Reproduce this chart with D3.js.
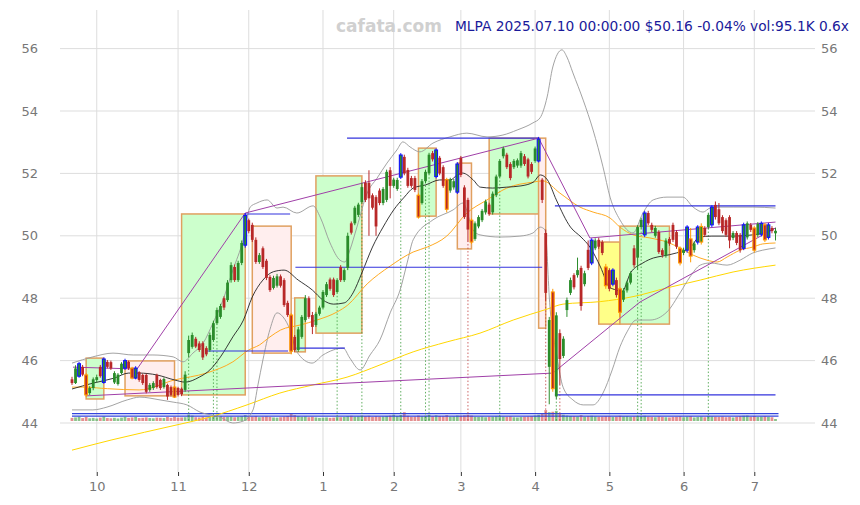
<!DOCTYPE html>
<html><head><meta charset="utf-8">
<script src="https://cdn.jsdelivr.net/npm/d3@7"></script>
<style>body{margin:0;background:#fff}svg{display:block}</style>
</head><body><svg id="c" width="860" height="505"></svg>
<script>
const tickIdx=[7,30,50,71,91,110,131,152,173,193];
const tickLabels=["10","11","12","1","2","3","4","5","6","7"];
const yTicks=[44,46,48,50,52,54,56];
const open=[45.40,45.28,45.50,45.80,45.54,44.96,45.12,45.38,45.80,45.30,
45.96,45.95,45.30,45.25,45.60,45.76,45.96,45.76,45.44,45.63,
45.54,45.54,45.06,45.12,45.54,45.38,45.15,45.22,45.15,45.15,
45.12,45.10,45.06,46.24,46.44,46.70,46.55,46.56,46.40,46.34,
46.66,47.20,47.40,48.00,47.94,48.58,49.00,48.58,49.13,49.70,
50.50,50.35,49.87,49.16,49.60,49.20,48.68,48.33,48.40,48.70,
48.58,47.85,47.46,46.76,46.34,46.76,47.30,48.00,47.46,47.14,
47.50,47.70,48.10,48.60,48.60,48.20,49.00,48.58,48.97,50.40,
50.40,50.67,51.08,51.70,51.70,51.30,51.24,51.45,51.05,51.15,
52.10,51.60,51.50,51.88,52.53,52.11,51.85,51.85,51.30,51.05,
51.75,52.00,52.65,51.90,52.50,52.20,51.80,51.45,51.55,51.40,
52.50,51.55,51.15,50.50,49.90,50.30,50.50,50.75,51.00,50.75,
51.30,51.90,52.55,52.60,52.30,52.20,52.25,52.25,52.55,52.45,
52.30,52.40,52.40,51.80,50.09,45.80,48.20,44.85,46.88,46.15,
47.62,48.17,48.74,48.74,48.97,48.45,49.55,49.13,49.60,49.87,
49.80,49.00,48.90,48.45,48.58,48.30,47.95,48.25,48.50,49.60,
49.30,50.28,50.03,50.73,50.35,50.00,50.12,49.54,49.38,49.90,
50.35,50.12,49.60,49.45,49.54,49.90,49.54,49.80,49.80,50.25,
50.28,50.35,50.99,50.85,50.60,50.50,50.60,49.93,50.09,50.03,
49.60,49.95,50.35,50.25,50.03,50.05,50.35,49.95,50.25,50.08];
const high=[45.48,45.85,45.96,45.86,45.60,45.18,45.46,45.55,45.86,46.10,
46.02,46.00,45.66,45.60,45.95,46.06,46.00,45.80,45.82,45.66,
45.58,45.58,45.28,45.34,45.58,45.42,45.46,45.26,45.20,45.20,
45.16,45.14,45.66,46.80,46.90,46.76,46.62,46.62,46.46,46.90,
47.28,47.70,47.82,48.06,48.58,49.15,49.08,49.20,49.85,50.73,
50.55,50.42,49.95,49.45,49.66,49.26,48.74,48.72,48.78,48.76,
48.64,47.92,47.52,46.82,47.08,47.46,48.10,48.06,47.56,47.56,
47.76,48.26,48.52,48.66,48.66,48.64,49.06,48.96,50.10,50.46,
50.96,51.06,51.70,51.78,52.10,51.36,51.30,51.52,51.56,52.12,
52.20,51.86,51.86,52.65,52.60,52.18,51.92,51.92,51.36,51.82,
52.12,52.66,52.72,52.80,52.56,52.26,51.86,51.86,51.82,52.36,
52.56,51.62,51.22,50.56,50.46,50.66,50.86,51.16,51.06,51.42,
51.96,52.46,52.86,52.66,52.36,52.46,52.48,52.72,52.62,52.50,
52.36,52.86,53.17,51.85,50.20,47.40,48.30,47.55,47.00,46.78,
48.02,48.66,48.80,49.30,49.04,48.88,49.85,49.92,49.92,49.94,
49.86,49.10,48.96,48.96,48.66,48.36,48.32,48.56,48.86,49.70,
50.34,50.58,50.80,50.80,50.42,50.32,50.18,49.60,49.92,49.96,
50.42,50.18,49.66,49.62,50.34,50.25,49.82,50.34,50.40,50.31,
50.74,50.98,51.10,51.05,50.66,50.56,50.66,50.15,50.15,50.09,
50.42,50.46,50.41,50.31,50.44,50.46,50.41,50.41,50.31,50.25];
const low=[45.22,45.25,45.45,45.50,44.83,44.90,45.05,45.30,45.45,45.26,
45.75,45.70,45.25,45.20,45.55,45.70,45.70,45.40,45.40,45.32,
45.22,44.95,45.00,45.06,45.10,45.06,45.10,44.74,44.85,44.80,
44.85,44.86,45.00,46.10,46.38,46.40,46.28,46.02,46.14,46.28,
46.60,47.14,47.34,47.62,47.88,48.50,48.52,48.52,49.06,49.62,
50.08,49.80,49.10,49.10,48.94,48.58,48.20,48.28,48.34,48.34,
47.72,47.40,46.20,46.28,46.28,46.70,47.24,47.34,46.85,47.08,
47.44,47.64,48.04,48.24,48.04,48.14,48.52,48.52,48.90,50.04,
50.34,50.60,51.02,51.08,50.00,50.84,50.00,50.98,50.98,51.08,
51.20,51.54,51.44,51.82,51.94,51.54,51.54,51.40,50.55,51.00,
51.68,51.94,52.38,51.84,51.94,51.54,50.75,51.38,51.48,51.34,
51.88,50.54,49.80,49.74,49.84,50.24,50.44,50.68,50.64,50.68,
51.24,51.84,52.48,52.14,51.78,52.14,52.18,52.18,52.24,51.84,
51.98,52.34,52.35,51.05,47.90,44.60,45.00,44.75,45.20,46.08,
47.40,48.10,48.28,48.66,47.60,48.38,48.90,49.06,49.54,49.58,
49.38,48.30,48.22,48.38,48.02,47.40,47.88,48.18,48.44,48.98,
48.90,50.20,49.96,50.34,50.12,49.94,49.42,49.30,49.30,49.68,
49.80,49.58,49.05,49.38,49.46,49.15,49.46,49.72,49.72,49.96,
50.20,50.28,50.52,50.34,50.08,49.96,49.60,49.86,49.70,49.46,
49.54,49.88,50.12,49.46,49.96,49.98,49.80,49.88,50.08,49.85];
const close=[45.28,45.75,45.90,45.55,44.90,45.12,45.40,45.47,45.50,46.05,
45.80,45.75,45.60,45.55,45.90,46.00,45.76,45.44,45.76,45.38,
45.28,45.00,45.22,45.28,45.15,45.12,45.41,44.85,44.90,44.83,
44.90,44.92,45.55,46.66,46.82,46.45,46.34,46.10,46.20,46.82,
47.20,47.62,47.75,47.70,48.50,49.06,48.58,49.13,49.77,50.65,
50.15,49.87,49.16,49.38,49.00,48.65,48.26,48.65,48.70,48.40,
47.78,47.46,46.30,46.34,47.00,47.40,48.00,47.40,47.08,47.50,
47.70,48.20,48.45,48.30,48.10,48.58,48.58,48.90,50.00,50.10,
50.90,51.00,51.56,51.15,51.20,50.90,50.30,51.05,51.50,52.05,
51.60,51.80,51.79,52.59,52.00,51.60,51.60,51.47,50.60,51.75,
52.05,52.60,52.45,52.75,52.00,51.60,50.85,51.80,51.75,52.30,
51.95,50.60,50.20,49.80,50.40,50.60,50.80,51.10,50.70,51.35,
51.90,52.40,52.80,52.20,51.85,52.40,52.42,52.65,52.30,51.90,
52.05,52.80,53.10,51.15,48.17,47.30,45.10,47.45,46.05,46.70,
47.94,48.58,48.35,48.90,47.75,48.80,48.97,49.86,49.85,49.65,
49.45,48.40,48.30,48.90,48.10,47.55,48.25,48.50,48.80,49.06,
50.28,50.51,50.73,50.40,50.19,50.25,49.48,49.38,49.85,49.75,
49.87,49.65,49.13,49.55,50.28,49.35,49.75,50.28,50.30,50.03,
50.67,50.92,50.60,50.40,50.15,50.03,49.85,50.09,49.77,49.54,
50.35,50.40,50.19,49.54,50.38,50.40,49.87,50.35,50.15,50.16];
const volume=[150,170,210,140,190,130,150,120,160,220,
140,130,150,120,160,200,150,170,190,140,
150,170,140,130,160,150,140,190,150,200,
160,170,180,310,260,180,170,200,160,220,
240,270,230,190,200,210,180,200,230,280,
230,210,240,180,200,220,190,170,160,180,
210,240,330,280,230,200,220,180,200,170,
150,160,170,150,160,200,180,190,230,250,
210,220,260,230,250,200,230,210,220,240,
260,300,240,280,420,250,200,210,260,230,
250,300,230,270,240,230,280,210,220,260,
250,270,300,260,200,190,210,180,200,210,
230,240,210,200,220,180,170,190,200,210,
230,260,300,380,520,420,440,480,350,300,
260,240,230,220,280,210,230,250,220,200,
210,230,220,200,210,250,220,230,200,210,
240,230,250,200,190,180,210,190,180,170,
190,200,220,180,210,230,170,190,210,180,
240,220,200,190,210,180,190,170,200,230,
250,260,200,240,190,210,230,200,180,95];
const volLevels=[350,230];
const blueIdx=[2,9,15,18,49,93,103,109,132,147,153,162,174,177,181,190,195,197];
const orangeIdx=[4,17,29,62,98,106,113,136,151,155,172,175,178,193,196];
const greenMarks=[33,40,41,75,82,93,100,101,121,137,160,161,180];
const redMarks=[112,134,138];
const ma20=[[0,45.09],[6,45.28],[12,45.44],[16,45.60],[19,45.60],[24,45.54],[29,45.38],[32,45.31],[36,45.47],[39,45.70],[42,46.12],[45.5,46.76],[48.5,47.30],[51,48.04],[54,48.58],[57,48.85],[60,48.90],[64,48.58],[68,48.26],[71,47.94],[74,47.81],[77,47.85],[79.5,48.17],[82,48.81],[85,49.64],[88,50.28],[91,50.83],[94,51.24],[96.5,51.53],[100,51.63],[104,51.79],[107,51.79],[109,51.95],[110.5,52.01],[113.5,51.79],[115.5,51.56],[119,51.53],[123,51.56],[127,51.60],[130.5,51.72],[132.5,51.95],[134.5,51.79],[137,51.15],[141,50.28],[144,49.96],[146.5,49.64],[149.5,49.00],[152,48.36],[154,48.26],[155.5,48.20],[158,48.81],[161.5,49.13],[164.5,49.29],[167,49.35],[171,49.45],[175,49.64],[177.5,49.96],[181,49.99],[187,49.99],[192.5,50.03],[196.5,50.12],[199,50.25]];
const ma50=[[0,45.15],[3,45.15],[10,45.10],[19,45.06],[29,45.38],[38,45.60],[45.5,45.96],[50,46.34],[53,46.50],[56,46.76],[59,46.98],[64.5,47.14],[69.3,47.30],[75,47.56],[78,47.78],[83.5,48.46],[90,49.03],[96.5,49.48],[100.5,49.64],[106,49.99],[111.7,50.73],[117.4,51.15],[123,51.53],[130.4,51.72],[133.2,51.76],[138,51.37],[143.7,50.92],[147.4,50.76],[152.2,50.57],[155,50.28],[158.7,50.03],[163.5,49.93],[168.3,49.80],[172,49.61],[175.7,49.38],[179.6,49.22],[182.5,49.16],[185.3,49.32],[189,49.54],[192.6,49.64],[195.4,49.74],[199,49.77]];
const ma200=[[0,43.13],[11.3,43.46],[29.7,43.94],[39,44.19],[49.5,44.58],[58.8,44.96],[68.2,45.22],[77.8,45.47],[87.1,45.86],[96.5,46.28],[106.1,46.60],[115.4,46.88],[124.8,47.30],[134.4,47.65],[138.9,47.81],[149.4,47.89],[158.7,48.05],[168.3,48.33],[177.7,48.58],[187,48.84],[199,49.06]];
const bbUpper=[[0,45.92],[5.9,46.12],[11.6,46.24],[17.3,46.18],[22.9,46.18],[28.6,46.12],[31.4,45.96],[34.2,46.24],[37.1,46.56],[39.9,47.21],[42.7,47.94],[45.5,48.90],[48.4,49.87],[50.4,50.92],[52.3,51.05],[55.2,51.15],[58,50.89],[59.7,50.92],[63.6,50.73],[68.2,50.96],[70.2,50.60],[73,49.77],[75.8,49.22],[77.2,49.16],[78.6,49.54],[80.6,50.28],[83.5,51.37],[86.3,51.85],[89.1,52.33],[91.9,52.75],[93.6,53.01],[95.6,52.85],[98.4,52.69],[102.1,52.97],[106.9,53.17],[111.7,53.29],[117.4,53.17],[121.9,53.23],[125.9,53.39],[130.4,53.62],[132.4,53.78],[134.4,54.45],[136,55.41],[138.6,55.96],[140,55.73],[141.7,55.22],[144.6,54.35],[147.4,53.39],[150.2,52.21],[152.2,51.24],[155,50.51],[158.7,50.09],[161.5,50.73],[164.4,51.15],[168.3,51.24],[172.8,51.24],[175.7,50.92],[178.5,50.76],[180.5,50.89],[183.3,50.92],[187,50.92],[192.6,50.92],[199,50.89]];
const bbLower=[[0,44.42],[5.9,44.42],[9.9,44.51],[15.6,44.74],[19.2,44.83],[24.9,44.74],[28.6,44.67],[32.5,44.58],[36.2,44.35],[41.9,44.19],[45.5,44.00],[48.4,44.06],[51.2,44.42],[52.6,45.22],[54,46.02],[56,47.00],[58,47.53],[59.7,47.40],[61.7,46.98],[63.6,46.28],[67.9,45.92],[71,46.18],[76.7,46.40],[78.6,46.08],[81.5,45.70],[84.3,46.18],[87.1,46.66],[90,47.53],[92.8,48.26],[94.8,49.13],[96.5,49.87],[102.1,50.51],[107.8,50.83],[110.6,51.05],[113.4,50.19],[115.4,50.03],[121.1,49.96],[126.7,49.99],[130.4,50.09],[132.4,50.28],[133.8,50.19],[135.2,47.72],[137.2,46.12],[138.9,45.15],[141.7,44.74],[144.6,44.58],[147.4,44.58],[150.2,44.96],[152.8,45.70],[155,46.44],[157,46.92],[159.6,47.30],[163.5,47.30],[168.3,47.56],[172,48.17],[174.8,48.68],[177.7,49.06],[180.5,49.13],[185.3,49.06],[189,49.22],[192.6,49.45],[195.4,49.54],[199,49.61]];
const segFrom=[37.6,49,63.5,63.2,77.8,136.6,136.6];
const segTo=[61.1,61.7,77.2,133,132,199,199];
const segLevel=[46.31,50.70,46.40,48.99,53.13,50.96,44.90];
const zigzag=[[0.3,45.79],[18.4,45.73],[49,50.73],[132,53.13],[146.5,49.93],[199,50.44]];
const trendLow=[[4.2,44.87],[136,45.60],[160.7,47.88],[199,50.25]];
const boxFrom=[4,15,31,51,63,69,98,109,118,132,149,155];
const boxTo=[9,29,49,62,66,82,103,113,132,134,155,169];
const boxHi=[46.08,45.99,50.70,50.31,48.01,51.92,52.81,52.33,53.13,53.13,49.80,50.31];
const boxLo=[44.77,44.87,44.90,46.24,46.28,46.88,50.63,49.58,50.70,47.04,47.17,47.17];
const boxKind=["g","p","g","p","g","g","g","p","g","p","y","g"];
const titleText="MLPA 2025.07.10 00:00:00 $50.16 -0.04% vol:95.1K 0.6x";

const svg=d3.select("#c");
const x=d3.scaleLinear().domain([0,199]).range([72,775.5]);
const y=d3.scaleLinear().domain([44,56]).range([423,48.6]);
const vy=d3.scaleLinear().domain([0,500]).range([421,410.5]);
const FONT="DejaVu Sans, sans-serif";

// grid
svg.append("g").selectAll("line").data(yTicks).join("line")
  .attr("x1",60).attr("x2",815).attr("y1",d=>y(d)).attr("y2",d=>y(d))
  .attr("stroke","#dddddd").attr("stroke-width",1);
svg.append("g").selectAll("line").data(tickIdx).join("line")
  .attr("x1",d=>x(d)).attr("x2",d=>x(d)).attr("y1",10).attr("y2",472)
  .attr("stroke","#dddddd").attr("stroke-width",1);

// axes
const gx=svg.append("g").attr("transform","translate(0,472)")
  .call(d3.axisBottom(x).tickValues(tickIdx).tickFormat((d,i)=>tickLabels[i]).tickSize(4).tickPadding(6));
const gl=svg.append("g").attr("transform","translate(38,0)")
  .call(d3.axisLeft(y).tickValues(yTicks).tickSize(0).tickPadding(0));
const gr=svg.append("g").attr("transform","translate(821,0)")
  .call(d3.axisRight(y).tickValues(yTicks).tickSize(0).tickPadding(0));
[gx,gl,gr].forEach(g=>{
  g.select(".domain").remove();
  g.selectAll("text").attr("fill","#777").style("font-family",FONT).style("font-size","13px");
  g.selectAll("line").attr("stroke","#333");
});

// boxes
const boxFill={g:"#ccffcc",p:"#ffeeee",y:"#ffff88"};
svg.append("g").selectAll("rect").data(boxFrom.map((d,i)=>i)).join("rect")
  .attr("x",i=>x(boxFrom[i])).attr("width",i=>x(boxTo[i])-x(boxFrom[i]))
  .attr("y",i=>y(boxHi[i])).attr("height",i=>y(boxLo[i])-y(boxHi[i]))
  .attr("fill",i=>boxFill[boxKind[i]]).attr("stroke","#e0a060").attr("stroke-width",1.5);

// volume
const idx=d3.range(close.length);
svg.append("g").selectAll("rect").data(idx).join("rect")
  .attr("x",i=>x(i)-1.4).attr("width",2.8)
  .attr("y",i=>vy(volume[i])).attr("height",i=>vy(0)-vy(volume[i]))
  .attr("fill",i=>close[i]>=open[i]?"#5aaa5a":"#d86060").attr("opacity",0.7);
svg.append("g").selectAll("line").data(volLevels).join("line")
  .attr("x1",x(0)).attr("x2",x(199)+3).attr("y1",d=>vy(d)).attr("y2",d=>vy(d))
  .attr("stroke","#3344dd").attr("stroke-width",1.2);

// marker dotted lines
svg.append("g").selectAll("line").data(greenMarks).join("line")
  .attr("x1",i=>x(i)).attr("x2",i=>x(i)).attr("y1",i=>y(low[i])+2).attr("y2",vy(0))
  .attr("stroke","#3a9a3a").attr("stroke-width",0.8).attr("stroke-dasharray","1.5,2");
svg.append("g").selectAll("line").data(redMarks).join("line")
  .attr("x1",i=>x(i)).attr("x2",i=>x(i)).attr("y1",i=>y(low[i])+2).attr("y2",vy(0))
  .attr("stroke","#c04040").attr("stroke-width",0.8).attr("stroke-dasharray","1.5,2");

// lines
const ln=d3.line().x(d=>x(d[0])).y(d=>y(d[1])).curve(d3.curveMonotoneX);
const straight=d3.line().x(d=>x(d[0])).y(d=>y(d[1]));
svg.append("path").attr("d",ln(ma200)).attr("fill","none").attr("stroke","#ffd700").attr("stroke-width",1);
svg.append("path").attr("d",ln(bbUpper)).attr("fill","none").attr("stroke","#999").attr("stroke-width",0.9);
svg.append("path").attr("d",ln(bbLower)).attr("fill","none").attr("stroke","#999").attr("stroke-width",0.9);
svg.append("path").attr("d",ln(ma50)).attr("fill","none").attr("stroke","#ffaa22").attr("stroke-width",1);
svg.append("path").attr("d",ln(ma20)).attr("fill","none").attr("stroke","#222").attr("stroke-width",0.9);

// support / resistance
svg.append("g").selectAll("line").data(segFrom.map((d,i)=>i)).join("line")
  .attr("x1",i=>x(segFrom[i])).attr("x2",i=>x(segTo[i]))
  .attr("y1",i=>y(segLevel[i])).attr("y2",i=>y(segLevel[i]))
  .attr("stroke","#3333dd").attr("stroke-width",1.1);

// trend lines
svg.append("path").attr("d",straight(zigzag)).attr("fill","none").attr("stroke","#a040a8").attr("stroke-width",1);
svg.append("path").attr("d",straight(trendLow)).attr("fill","none").attr("stroke","#a040a8").attr("stroke-width",1);

// candles
const special=i=>blueIdx.includes(i)?"#1010ff":(orangeIdx.includes(i)?"#ff9900":null);
const col=i=>close[i]>=open[i]?"#2a8c2a":"#b82828";
const cg=svg.append("g");
cg.selectAll("line").data(idx).join("line")
  .attr("x1",i=>x(i)).attr("x2",i=>x(i))
  .attr("y1",i=>y(Math.max(high[i],open[i],close[i]))).attr("y2",i=>y(Math.min(low[i],open[i],close[i])))
  .attr("stroke",i=>special(i)||col(i)).attr("stroke-width",1);
cg.selectAll("rect").data(idx).join("rect")
  .attr("x",i=>x(i)-1.4).attr("width",2.8)
  .attr("y",i=>y(Math.max(open[i],close[i])))
  .attr("height",i=>Math.max(1,y(Math.min(open[i],close[i]))-y(Math.max(open[i],close[i]))))
  .attr("fill",i=>col(i))
  .attr("stroke",i=>special(i)||"none").attr("stroke-width",i=>special(i)?1.1:0);

// texts
svg.append("text").attr("x",389).attr("y",32).attr("text-anchor","middle")
  .style("font-family",FONT).style("font-size","17px").style("font-weight","bold")
  .attr("fill","#d0d0d0").text("cafata.com");
svg.append("text").attr("x",455).attr("y",31)
  .style("font-family",FONT).style("font-size","14px")
  .attr("textLength",394).attr("lengthAdjust","spacingAndGlyphs")
  .attr("fill","#1a1a9a").text(titleText);
</script></body></html>
